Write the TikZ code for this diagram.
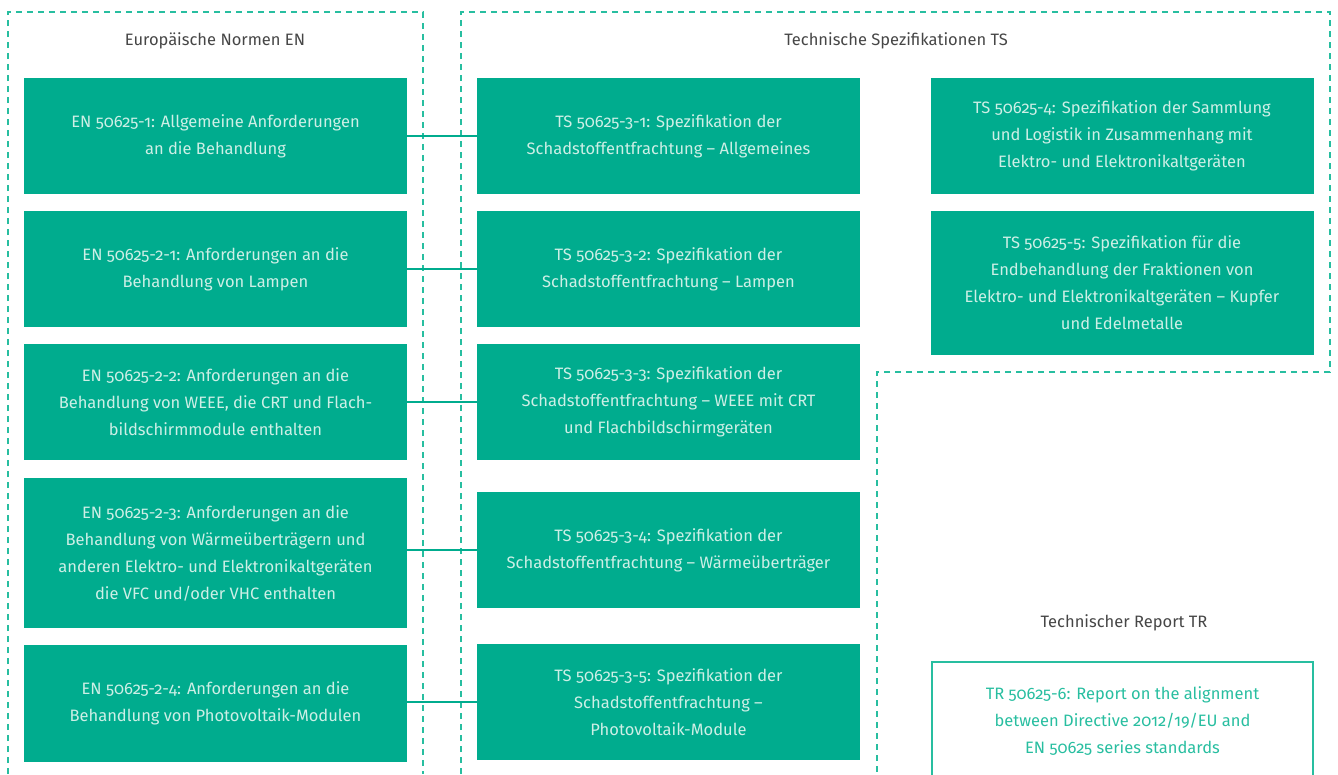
\documentclass[tikz,border=0pt]{standalone}
\usepackage{fontspec}
\setmainfont{Fira Sans}[Numbers=OldStyle]
\usepackage{tikz}
\usetikzlibrary{positioning, calc}

\definecolor{weeegreen}{RGB}{0,172,142}
\definecolor{weeetext}{RGB}{205,239,230}
\definecolor{weeedash}{RGB}{40,190,160}
\definecolor{weeegray}{RGB}{70,70,70}

\begin{document}
\begin{tikzpicture}[
      x=1pt, y=-1pt,
      normbox/.style={rectangle, fill=weeegreen, text=weeetext, align=center,
        minimum width=383pt, inner sep=0pt, font=\fontsize{16.5}{27}\selectfont},
      reportbox/.style={rectangle, draw=weeedash, line width=1.5pt, text=weeedash,
        align=center, minimum width=381pt, minimum height=118pt, inner sep=0pt,
        font=\fontsize{16.5}{27}\selectfont},
      heading/.style={text=weeegray, font=\fontsize{16.5}{18}\selectfont},
      region/.style={draw=weeedash, line width=1.5pt, dash pattern=on 6pt off 5pt},
      link/.style={draw=weeegreen, line width=1.5pt}
  ]
  \useasboundingbox (0,0) rectangle (1338,774);
  \clip (0,0) rectangle (1338,774);

  % dashed regions
  \draw[region] (8,774) -- (8,12) -- (423,12) -- (423,774);
  \draw[region] (461,774) -- (461,12) -- (1330,12) -- (1330,372) -- (877,372) -- (877,774);

  \node[heading] (hen) at (215,41) {Europäische Normen EN};
  \node[heading] (hts) at (896,41) {Technische Spezifikationen TS};
  \node[heading] (htr) at (1124,623) {Technischer Report TR};

  % EN column
  \node[normbox, minimum height=116pt] (en1) at (215.5,136)
    {EN 50625-1: Allgemeine Anforderungen\\an die Behandlung};
  \node[normbox, minimum height=116pt] (en2) at (215.5,269)
    {EN 50625-2-1: Anforderungen an die\\Behandlung von Lampen};
  \node[normbox, minimum height=116pt] (en3) at (215.5,402)
    {EN 50625-2-2: Anforderungen an die\\Behandlung von WEEE, die CRT und Flach-\\bildschirmmodule enthalten};
  \node[normbox, minimum height=150pt] (en4) at (215.5,553)
    {EN 50625-2-3: Anforderungen an die\\Behandlung von Wärmeüberträgern und\\anderen Elektro- und Elektronikaltgeräten\\die VFC und/oder VHC enthalten};
  \node[normbox, minimum height=117pt] (en5) at (215.5,703.5)
    {EN 50625-2-4: Anforderungen an die\\Behandlung von Photovoltaik-Modulen};

  % TS column
  \node[normbox, minimum height=116pt] (ts1) at (668.5,136)
    {TS 50625-3-1: Spezifikation der\\Schadstoffentfrachtung -- Allgemeines};
  \node[normbox, minimum height=116pt] (ts2) at (668.5,269)
    {TS 50625-3-2: Spezifikation der\\Schadstoffentfrachtung -- Lampen};
  \node[normbox, minimum height=116pt] (ts3) at (668.5,402)
    {TS 50625-3-3: Spezifikation der\\Schadstoffentfrachtung -- WEEE mit CRT\\und Flachbildschirmgeräten};
  \node[normbox, minimum height=116pt] (ts4) at (668.5,550)
    {TS 50625-3-4: Spezifikation der\\Schadstoffentfrachtung -- Wärmeüberträger};
  \node[normbox, minimum height=116pt] (ts5) at (668.5,702)
    {TS 50625-3-5: Spezifikation der\\Schadstoffentfrachtung --\\Photovoltaik-Module};

  % TS 4 / TS 5
  \node[normbox, minimum height=116pt] (ts6) at (1122,136)
    {TS 50625-4: Spezifikation der Sammlung\\und Logistik in Zusammenhang mit\\Elektro- und Elektronikaltgeräten};
  \node[normbox, minimum height=144pt] (ts7) at (1122,283)
    {TS 50625-5: Spezifikation für die\\Endbehandlung der Fraktionen von\\Elektro- und Elektronikaltgeräten -- Kupfer\\und Edelmetalle};

  \node[reportbox] (tr) at (1122.5,721)
    {TR 50625-6: Report on the alignment\\between Directive 2012/19/EU and\\EN 50625 series standards};

  \foreach \i in {1,...,5} {
    \draw[link] (ts\i.west -| en\i.east) -- (ts\i.west);
  }
\end{tikzpicture}
\end{document}
